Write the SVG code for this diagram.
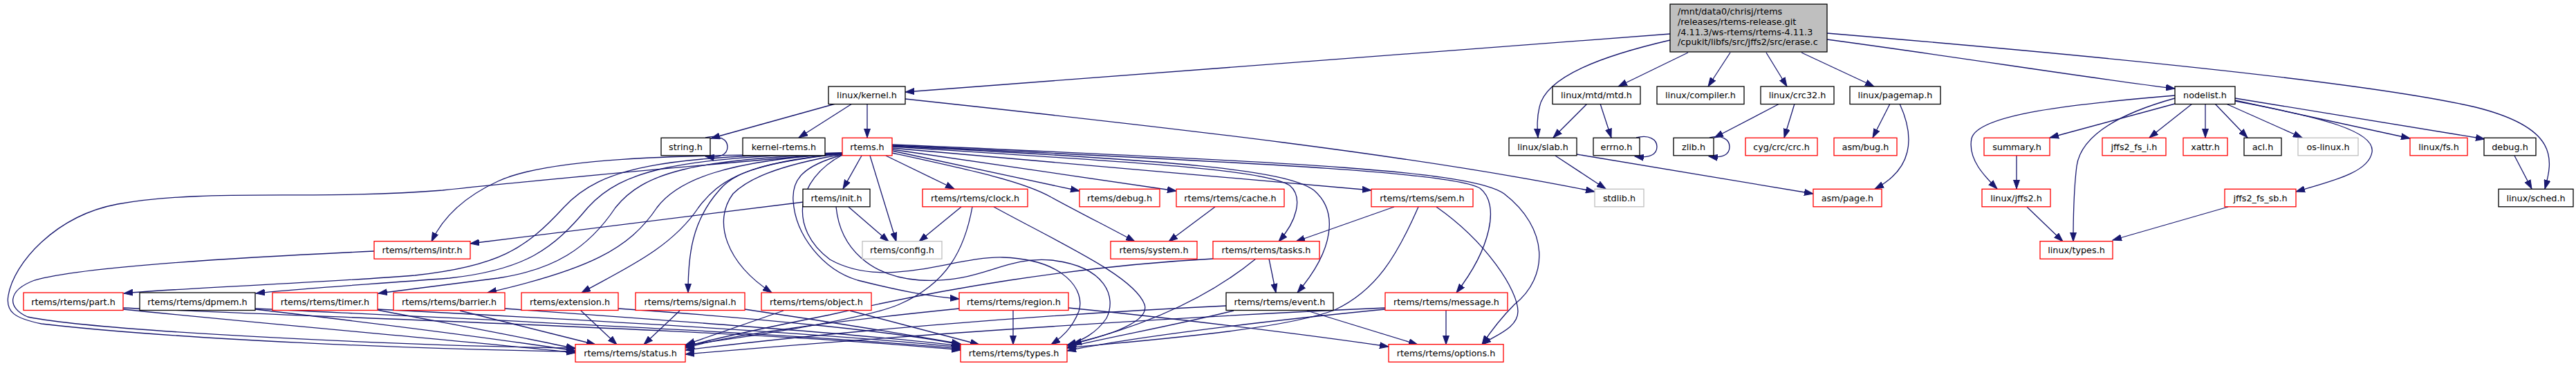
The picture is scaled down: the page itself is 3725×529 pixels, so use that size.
<svg xmlns="http://www.w3.org/2000/svg" width="3725" height="529" viewBox="0 0 3725 529">
<style>
rect{fill:#fff;stroke:#000;stroke-width:1.3}
.r rect{stroke:#ff0000}
.g rect{stroke:#bfbfbf}
.top rect{fill:#bfbfbf}
text{font-family:"DejaVu Sans",sans-serif;font-size:12.8px;fill:#000;text-anchor:middle}
.top text{text-anchor:start}
#edges path{fill:none;stroke:#191970;stroke-width:1.3;marker-end:url(#a)}
</style>
<defs>
<marker id="a" markerUnits="userSpaceOnUse" markerWidth="14" markerHeight="10" refX="13" refY="5" orient="auto" viewBox="0 0 14 10"><path d="M0,0.5 L13,5 L0,9.5 z" fill="#191970" stroke="#191970" stroke-width="1"/></marker>
</defs>
<rect x="0" y="0" width="3725" height="529" style="fill:#fff;stroke:none"/>
<g id="edges">
<path d="M2415,49 L1309,133"/>
<path d="M2415,58 C2320,80 2235,110 2226,155 C2222,172 2223,185 2224,199"/>
<path d="M2441,76 L2340,125"/>
<path d="M2502,76 L2470,125"/>
<path d="M2554,76 L2584,125"/>
<path d="M2605,76 L2710,125"/>
<path d="M2642,57 C2850,85 3000,110 3145,128"/>
<path d="M2642,48 C3050,82 3430,120 3580,155 C3700,185 3692,230 3680,273"/>
<path d="M1309,143 C1700,185 2050,225 2306,277"/>
<path d="M1208,150 L1028,200"/>
<path d="M1232,150 L1155,199"/>
<path d="M1254,150 L1254,199"/>
<path d="M1020,199 C1040,194 1052,202 1052,212 C1052,223 1042,229 1020,226"/>
<path d="M2295,150 L2246,199"/>
<path d="M2314,150 L2330,199"/>
<path d="M2366,199 C2385,194 2396,202 2396,212 C2396,223 2386,229 2364,226"/>
<path d="M2249,225 L2322,273"/>
<path d="M2280,223 L2622,280"/>
<path d="M2573,150 L2479,199"/>
<path d="M2595,150 L2580,199"/>
<path d="M2472,199 C2490,194 2501,202 2501,212 C2501,223 2492,229 2471,226"/>
<path d="M2733,150 L2708,199"/>
<path d="M2747,150 C2770,200 2765,245 2711,273"/>
<path d="M3145,138 C3000,150 2860,165 2851,200 C2845,230 2870,255 2888,273"/>
<path d="M3145,150 L2964,199"/>
<path d="M3145,142 C3080,160 3010,190 3003,240 C2998,280 2998,320 2998,349"/>
<path d="M3170,150 L3108,199"/>
<path d="M3189,150 L3189,199"/>
<path d="M3203,150 L3250,199"/>
<path d="M3219,150 L3329,199"/>
<path d="M3232,145 L3485,200"/>
<path d="M3232,142 L3593,201"/>
<path d="M3232,146 C3360,170 3435,190 3430,220 C3425,250 3370,262 3320,277"/>
<path d="M3636,225 L3661,273"/>
<path d="M2916,225 L2916,273"/>
<path d="M2931,299 L2983,349"/>
<path d="M3222,299 L3055,347"/>
<path d="M1246,225 L1219,273"/>
<path d="M1258,225 L1296,349"/>
<path d="M1281,225 L1380,273"/>
<path d="M1290,218 L1561,276"/>
<path d="M1290,216 L1701,276"/>
<path d="M1290,221 C1400,245 1480,262 1520,285 C1570,312 1610,332 1641,349"/>
<path d="M1290,214 L1983,275"/>
<path d="M1290,212 C1650,235 1830,245 1865,268 C1885,285 1875,320 1849,349"/>
<path d="M1290,211 C1700,232 1860,245 1900,275 C1935,305 1930,360 1876,423"/>
<path d="M1290,210 C1800,235 2100,248 2140,272 C2170,295 2155,360 2106,423"/>
<path d="M1290,209 C1900,235 2130,248 2175,280 C2240,330 2240,400 2190,440 C2170,460 2155,480 2143,498"/>
<path d="M1218,222 C1000,225 800,225 720,262 C670,285 640,315 624,349"/>
<path d="M1218,221 C1000,240 800,258 640,275 C450,290 300,272 170,295 C80,312 20,380 12,427 C8,450 20,460 60,468 C250,490 600,505 832,508"/>
<path d="M1218,221 C960,226 870,240 815,300 C760,360 720,385 600,398 C450,410 260,416 179,424"/>
<path d="M1218,221 C980,228 900,245 850,300 C800,360 760,390 650,402 C520,412 420,418 370,424"/>
<path d="M1218,222 C1000,230 930,250 890,300 C850,360 800,390 720,402 C640,412 590,418 547,424"/>
<path d="M1218,222 C1050,232 980,260 950,300 C910,360 850,390 705,423"/>
<path d="M1218,222 C1080,235 1040,260 1010,300 C970,360 900,390 841,423"/>
<path d="M1218,222 C1100,235 1060,250 1040,275 C1000,320 995,370 995,423"/>
<path d="M1218,223 C1120,240 1080,260 1060,280 C1030,320 1050,380 1116,423"/>
<path d="M1218,224 C1160,240 1145,260 1147,290 C1150,340 1190,390 1240,405 C1300,420 1340,428 1387,432"/>
<path d="M1218,224 C1150,260 1140,330 1200,375 C1280,420 1380,370 1450,372 C1540,375 1570,420 1560,450 C1550,475 1535,488 1520,498"/>
<path d="M1227,299 L1285,349"/>
<path d="M1162,292 L680,352"/>
<path d="M1209,299 C1215,360 1260,400 1330,405 C1420,410 1450,370 1520,376 C1600,385 1615,430 1600,460 C1585,482 1565,492 1543,499"/>
<path d="M1390,299 L1329,349"/>
<path d="M1406,299 C1395,360 1370,410 1300,440 C1250,462 1060,490 991,499"/>
<path d="M1437,299 C1540,355 1640,400 1655,440 C1665,470 1580,490 1543,499"/>
<path d="M1757,299 L1690,349"/>
<path d="M2016,299 L1874,349"/>
<path d="M2051,299 C2020,370 1990,420 1930,448 C1850,478 1650,492 1543,503"/>
<path d="M2077,299 C2150,350 2195,420 2195,450 C2195,475 2160,485 2143,498"/>
<path d="M1754,374 C1550,385 1350,420 1200,455 C1100,475 1030,490 991,501"/>
<path d="M1816,374 C1760,420 1680,465 1551,497"/>
<path d="M1835,374 L1845,423"/>
<path d="M178,447 C400,470 700,495 832,510"/>
<path d="M178,445 C500,460 1100,478 1389,506"/>
<path d="M369,447 C550,468 720,490 832,507"/>
<path d="M369,446 C700,462 1150,482 1389,504"/>
<path d="M546,448 C650,468 760,488 832,504"/>
<path d="M546,447 C800,460 1200,482 1389,502"/>
<path d="M665,449 L861,498"/>
<path d="M730,446 C950,462 1250,483 1389,500"/>
<path d="M840,449 L892,498"/>
<path d="M894,446 C1100,460 1300,480 1389,498"/>
<path d="M983,449 L931,498"/>
<path d="M1077,447 C1200,465 1320,485 1389,497"/>
<path d="M1133,449 L992,498"/>
<path d="M1229,449 L1416,498"/>
<path d="M1387,446 C1200,465 1050,485 991,503"/>
<path d="M1465,449 L1465,498"/>
<path d="M1545,445 C1700,460 1900,485 2008,501"/>
<path d="M1773,442 C1500,455 1200,480 991,506"/>
<path d="M1784,449 C1700,470 1600,488 1543,502"/>
<path d="M1890,449 L2050,498"/>
<path d="M2003,445 C1700,458 1300,485 991,512"/>
<path d="M2003,447 C1850,462 1650,485 1543,507"/>
<path d="M2091,449 L2091,498"/>
<path d="M541,363 C350,372 120,385 50,405 C10,420 10,445 40,458 C150,480 600,500 832,503"/>
</g>
<g id="n0" class="top"><rect x="2415" y="6" width="227" height="69"/><text x="2426" y="21">/mnt/data0/chrisj/rtems</text><text x="2426" y="36">/releases/rtems-release.git</text><text x="2426" y="50.5">/4.11.3/ws-rtems/rtems-4.11.3</text><text x="2426" y="65">/cpukit/libfs/src/jffs2/src/erase.c</text></g>
<g id="n1"><rect x="1198" y="125" width="111" height="25.5"/><text x="1253.5" y="142">linux/kernel.h</text></g>
<g id="n2"><rect x="2245" y="125" width="127" height="25.5"/><text x="2308.5" y="142">linux/mtd/mtd.h</text></g>
<g id="n3"><rect x="2396" y="125" width="126" height="25.5"/><text x="2459" y="142">linux/compiler.h</text></g>
<g id="n4"><rect x="2546" y="125" width="106" height="25.5"/><text x="2599" y="142">linux/crc32.h</text></g>
<g id="n5"><rect x="2675" y="125" width="131" height="25.5"/><text x="2740.5" y="142">linux/pagemap.h</text></g>
<g id="n6"><rect x="3145" y="125" width="87" height="25.5"/><text x="3188.5" y="142">nodelist.h</text></g>
<g id="n7"><rect x="956" y="199.3" width="71" height="25.5"/><text x="991.5" y="216.5">string.h</text></g>
<g id="n8"><rect x="1074" y="199.3" width="119" height="25.5"/><text x="1133.5" y="216.5">kernel-rtems.h</text></g>
<g id="n9" class="r"><rect x="1218" y="199.3" width="72" height="25.5"/><text x="1254" y="216.5">rtems.h</text></g>
<g id="n10"><rect x="2182" y="199.3" width="98" height="25.5"/><text x="2231" y="216.5">linux/slab.h</text></g>
<g id="n11"><rect x="2304" y="199.3" width="67" height="25.5"/><text x="2337.5" y="216.5">errno.h</text></g>
<g id="n12"><rect x="2420" y="199.3" width="58" height="25.5"/><text x="2449" y="216.5">zlib.h</text></g>
<g id="n13" class="r"><rect x="2524" y="199.3" width="104" height="25.5"/><text x="2576" y="216.5">cyg/crc/crc.h</text></g>
<g id="n14" class="r"><rect x="2652" y="199.3" width="91" height="25.5"/><text x="2697.5" y="216.5">asm/bug.h</text></g>
<g id="n15" class="r"><rect x="2869" y="199.3" width="95" height="25.5"/><text x="2916.5" y="216.5">summary.h</text></g>
<g id="n16" class="r"><rect x="3040" y="199.3" width="92" height="25.5"/><text x="3086" y="216.5">jffs2_fs_i.h</text></g>
<g id="n17" class="r"><rect x="3157" y="199.3" width="64" height="25.5"/><text x="3189" y="216.5">xattr.h</text></g>
<g id="n18"><rect x="3245" y="199.3" width="54" height="25.5"/><text x="3272" y="216.5">acl.h</text></g>
<g id="n19" class="g"><rect x="3323" y="199.3" width="87" height="25.5"/><text x="3366.5" y="216.5">os-linux.h</text></g>
<g id="n20" class="r"><rect x="3485" y="199.3" width="83" height="25.5"/><text x="3526.5" y="216.5">linux/fs.h</text></g>
<g id="n21"><rect x="3592" y="199.3" width="75" height="25.5"/><text x="3629.5" y="216.5">debug.h</text></g>
<g id="n22"><rect x="1161" y="273.3" width="97" height="25.5"/><text x="1209.5" y="290.5">rtems/init.h</text></g>
<g id="n23" class="r"><rect x="1334" y="273.3" width="152" height="25.5"/><text x="1410" y="290.5">rtems/rtems/clock.h</text></g>
<g id="n24" class="r"><rect x="1561" y="273.3" width="116" height="25.5"/><text x="1619" y="290.5">rtems/debug.h</text></g>
<g id="n25" class="r"><rect x="1701" y="273.3" width="156" height="25.5"/><text x="1779" y="290.5">rtems/rtems/cache.h</text></g>
<g id="n26" class="r"><rect x="1983" y="273.3" width="147" height="25.5"/><text x="2056.5" y="290.5">rtems/rtems/sem.h</text></g>
<g id="n27" class="g"><rect x="2306" y="273.3" width="71" height="25.5"/><text x="2341.5" y="290.5">stdlib.h</text></g>
<g id="n28" class="r"><rect x="2622" y="273.3" width="99" height="25.5"/><text x="2671.5" y="290.5">asm/page.h</text></g>
<g id="n29" class="r"><rect x="2866" y="273.3" width="99" height="25.5"/><text x="2915.5" y="290.5">linux/jffs2.h</text></g>
<g id="n30" class="r"><rect x="3217" y="273.3" width="103" height="25.5"/><text x="3268.5" y="290.5">jffs2_fs_sb.h</text></g>
<g id="n31"><rect x="3613" y="273.3" width="108" height="25.5"/><text x="3667" y="290.5">linux/sched.h</text></g>
<g id="n32" class="r"><rect x="541" y="348.7" width="139" height="25.5"/><text x="610.5" y="366">rtems/rtems/intr.h</text></g>
<g id="n33" class="g"><rect x="1247" y="348.7" width="115" height="25.5"/><text x="1304.5" y="366">rtems/config.h</text></g>
<g id="n34" class="r"><rect x="1606" y="348.7" width="125" height="25.5"/><text x="1668.5" y="366">rtems/system.h</text></g>
<g id="n35" class="r"><rect x="1754" y="348.7" width="154" height="25.5"/><text x="1831" y="366">rtems/rtems/tasks.h</text></g>
<g id="n36" class="r"><rect x="2950" y="348.7" width="105" height="25.5"/><text x="3002.5" y="366">linux/types.h</text></g>
<g id="n37" class="r"><rect x="34" y="423" width="144" height="25.5"/><text x="106" y="440.5">rtems/rtems/part.h</text></g>
<g id="n38"><rect x="202" y="423" width="167" height="25.5"/><text x="285.5" y="440.5">rtems/rtems/dpmem.h</text></g>
<g id="n39" class="r"><rect x="394" y="423" width="152" height="25.5"/><text x="470" y="440.5">rtems/rtems/timer.h</text></g>
<g id="n40" class="r"><rect x="569" y="423" width="161" height="25.5"/><text x="649.5" y="440.5">rtems/rtems/barrier.h</text></g>
<g id="n41" class="r"><rect x="754" y="423" width="140" height="25.5"/><text x="824" y="440.5">rtems/extension.h</text></g>
<g id="n42" class="r"><rect x="919" y="423" width="158" height="25.5"/><text x="998" y="440.5">rtems/rtems/signal.h</text></g>
<g id="n43" class="r"><rect x="1101" y="423" width="159" height="25.5"/><text x="1180.5" y="440.5">rtems/rtems/object.h</text></g>
<g id="n44" class="r"><rect x="1387" y="423" width="158" height="25.5"/><text x="1466" y="440.5">rtems/rtems/region.h</text></g>
<g id="n45"><rect x="1773" y="423" width="155" height="25.5"/><text x="1850.5" y="440.5">rtems/rtems/event.h</text></g>
<g id="n46" class="r"><rect x="2003" y="423" width="177" height="25.5"/><text x="2091.5" y="440.5">rtems/rtems/message.h</text></g>
<g id="n47" class="r"><rect x="832" y="497.7" width="159" height="25.5"/><text x="911.5" y="515">rtems/rtems/status.h</text></g>
<g id="n48" class="r"><rect x="1389" y="497.7" width="154" height="25.5"/><text x="1466" y="515">rtems/rtems/types.h</text></g>
<g id="n49" class="r"><rect x="2008" y="497.7" width="166" height="25.5"/><text x="2091" y="515">rtems/rtems/options.h</text></g>
</svg>
